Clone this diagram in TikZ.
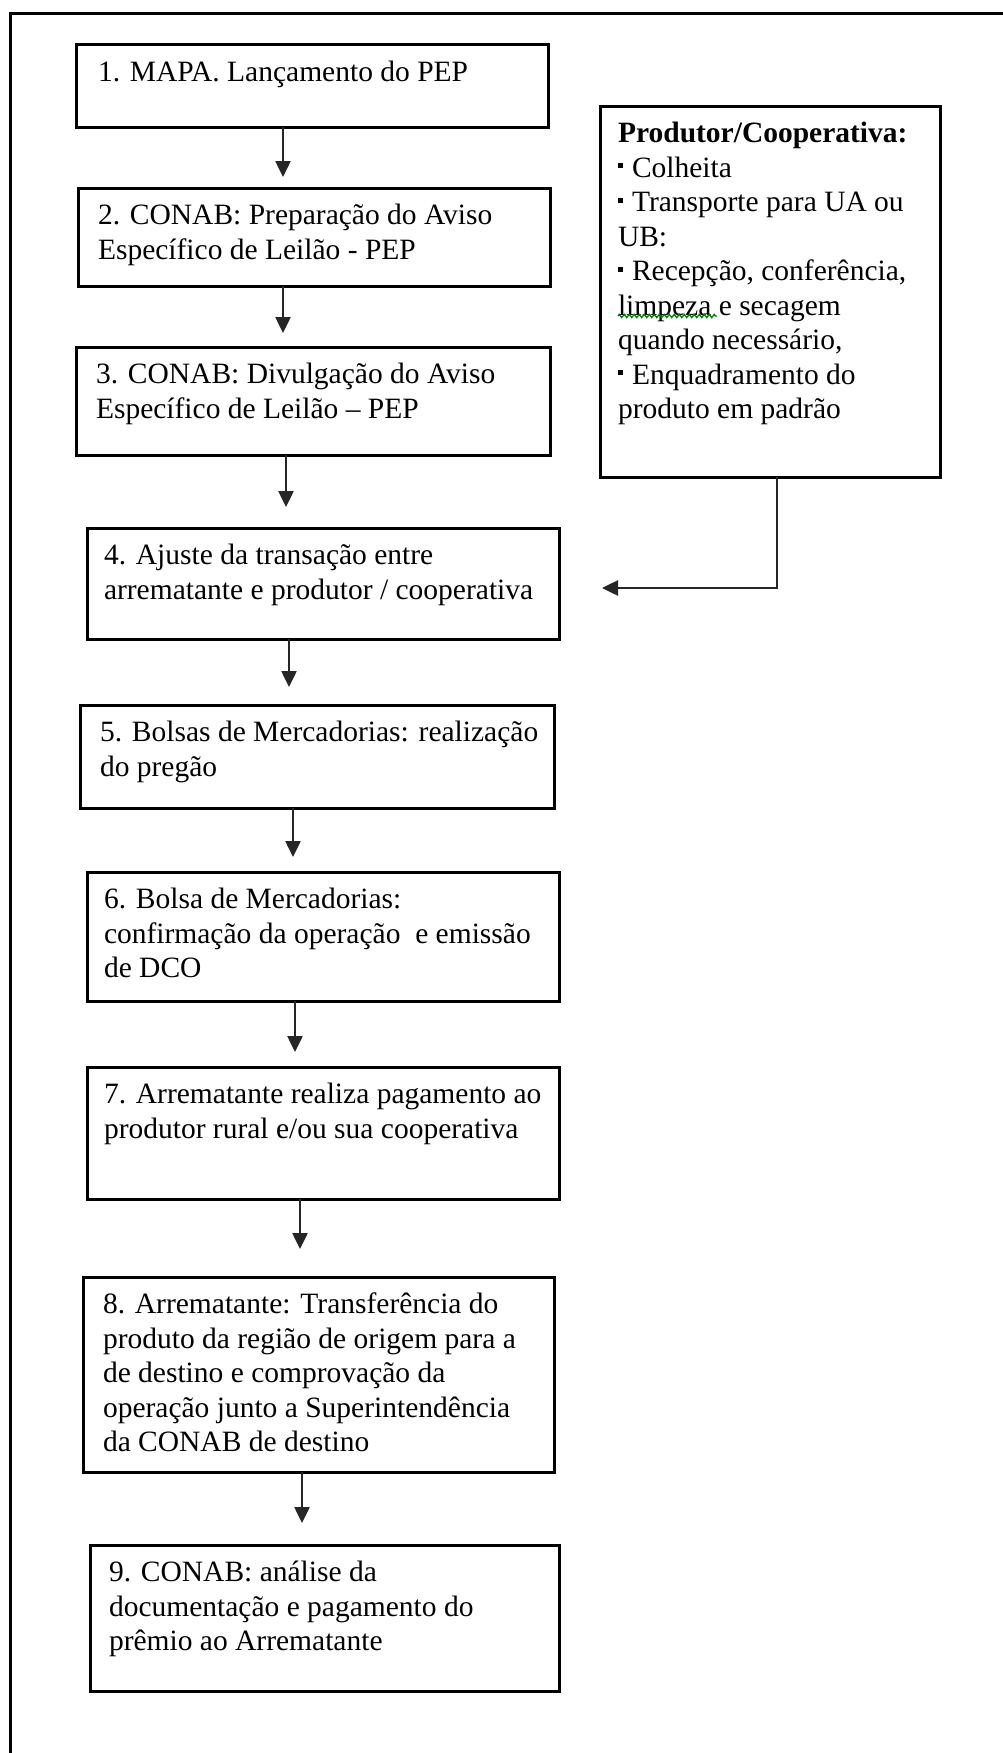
\documentclass[tikz,border=0pt]{standalone}
\usepackage{fontspec}
\setmainfont{Liberation Serif}
\usetikzlibrary{arrows.meta,decorations.pathmorphing}
\tikzset{
  boxst/.style={draw=black, line width=3pt, inner ysep=12.35pt, outer sep=0pt,
    font=\fontsize{29.5}{34.5}\selectfont, anchor=north west},
  arr/.style={draw=black!85, line width=2.5pt, -{Triangle[length=16pt,width=15pt]}},
  framest/.style={draw=black, line width=3pt},
  squig/.style={draw=green!50!black, line width=1.3pt, decorate,
    decoration={zigzag, segment length=5pt, amplitude=1.6pt}}
}
\newcommand\mybox[7]{%
  \pgfmathsetmacro\bw{#4-#2-2*#6}%
  \pgfmathsetmacro\bh{#5-#3-2*12.35}%
  \node[boxst, inner xsep=#6pt] (#1) at (#2,#3)
    {\parbox[c][\bh pt][t]{\bw pt}{\raggedright\strut #7}};%
}
\newcommand\bul{\rule[9pt]{5pt}{5pt}\hspace{9pt}}
\begin{document}
\begin{tikzpicture}[x=1pt,y=-1pt]
\useasboundingbox (0,0) rectangle (1003,1753);
% outer frame (left and top edges visible)
\draw[framest] (10,1753) -- (10,14) -- (1003,14);

\mybox{b1}{76}{45}{548}{127}{22}{\mbox{1. MAPA. Lançamento do PEP}}
\mybox{b2}{78}{188}{550}{286}{20}{\mbox{2. CONAB: Preparação do Aviso}\\\mbox{Específico de Leilão - PEP}}
\mybox{b3}{76}{347}{550}{455}{20}{\mbox{3. CONAB: Divulgação do Aviso}\\\mbox{Específico de Leilão – PEP}}
\mybox{b4}{87}{528}{559}{639}{17}{\mbox{4. Ajuste da transação entre}\\\mbox{arrematante e produtor / cooperativa}}
\mybox{b5}{80}{705}{554}{808}{20}{\mbox{5. Bolsas de Mercadorias: realização}\\\mbox{do pregão}}
\mybox{b6}{87}{872}{559}{1001}{17}{\mbox{6. Bolsa de Mercadorias:}\\\mbox{confirmação da operação\ \ e emissão}\\\mbox{de DCO}}
\mybox{b7}{87}{1067}{559}{1199}{17}{\mbox{7. Arrematante realiza pagamento ao}\\\mbox{produtor rural e/ou sua cooperativa}}
\mybox{b8}{83}{1277}{554}{1472}{20}{\mbox{8. Arrematante: Transferência do}\\\mbox{produto da região de origem para a}\\\mbox{de destino e comprovação da}\\\mbox{operação junto a Superintendência}\\\mbox{da CONAB de destino}}
\mybox{b9}{90}{1545}{559}{1691}{19}{\mbox{9. CONAB: análise da}\\\mbox{documentação e pagamento do}\\\mbox{prêmio ao Arrematante}}
\mybox{P}{600}{106}{940}{477}{18}{\mbox{\textbf{Produtor/Cooperativa:}}\\\mbox{\bul Colheita}\\\mbox{\bul Transporte para UA ou}\\UB:\\\mbox{\bul Recepção, conferência,}\\\mbox{limpeza e secagem}\\\mbox{quando necessário,}\\\mbox{\bul Enquadramento do}\\\mbox{produto em padrão}}

% spell-check squiggle under "limpeza"
\draw[squig] (618,316) -- (717,316);

% vertical arrows
\draw[arr, shorten >=11pt] ([xshift=-29pt]b1.south) -- ([xshift=-29pt]b1.south |- b2.north);
\draw[arr, shorten >=14pt] ([xshift=-31pt]b2.south) -- ([xshift=-31pt]b2.south |- b3.north);
\draw[arr, shorten >=21pt] ([xshift=-27pt]b3.south) -- ([xshift=-27pt]b3.south |- b4.north);
\draw[arr, shorten >=18pt] ([xshift=-34pt]b4.south) -- ([xshift=-34pt]b4.south |- b5.north);
\draw[arr, shorten >=15pt] ([xshift=-24pt]b5.south) -- ([xshift=-24pt]b5.south |- b6.north);
\draw[arr, shorten >=15pt] ([xshift=-28pt]b6.south) -- ([xshift=-28pt]b6.south |- b7.north);
\draw[arr, shorten >=28pt] ([xshift=-23pt]b7.south) -- ([xshift=-23pt]b7.south |- b8.north);
\draw[arr, shorten >=22pt] ([xshift=-16.5pt]b8.south) -- ([xshift=-16.5pt]b8.south |- b9.north);

% arrow from Produtor box towards box 4
\coordinate (pend) at (602,588);
\draw[arr] ([xshift=7pt]P.south) |- (pend);
\end{tikzpicture}
\end{document}
